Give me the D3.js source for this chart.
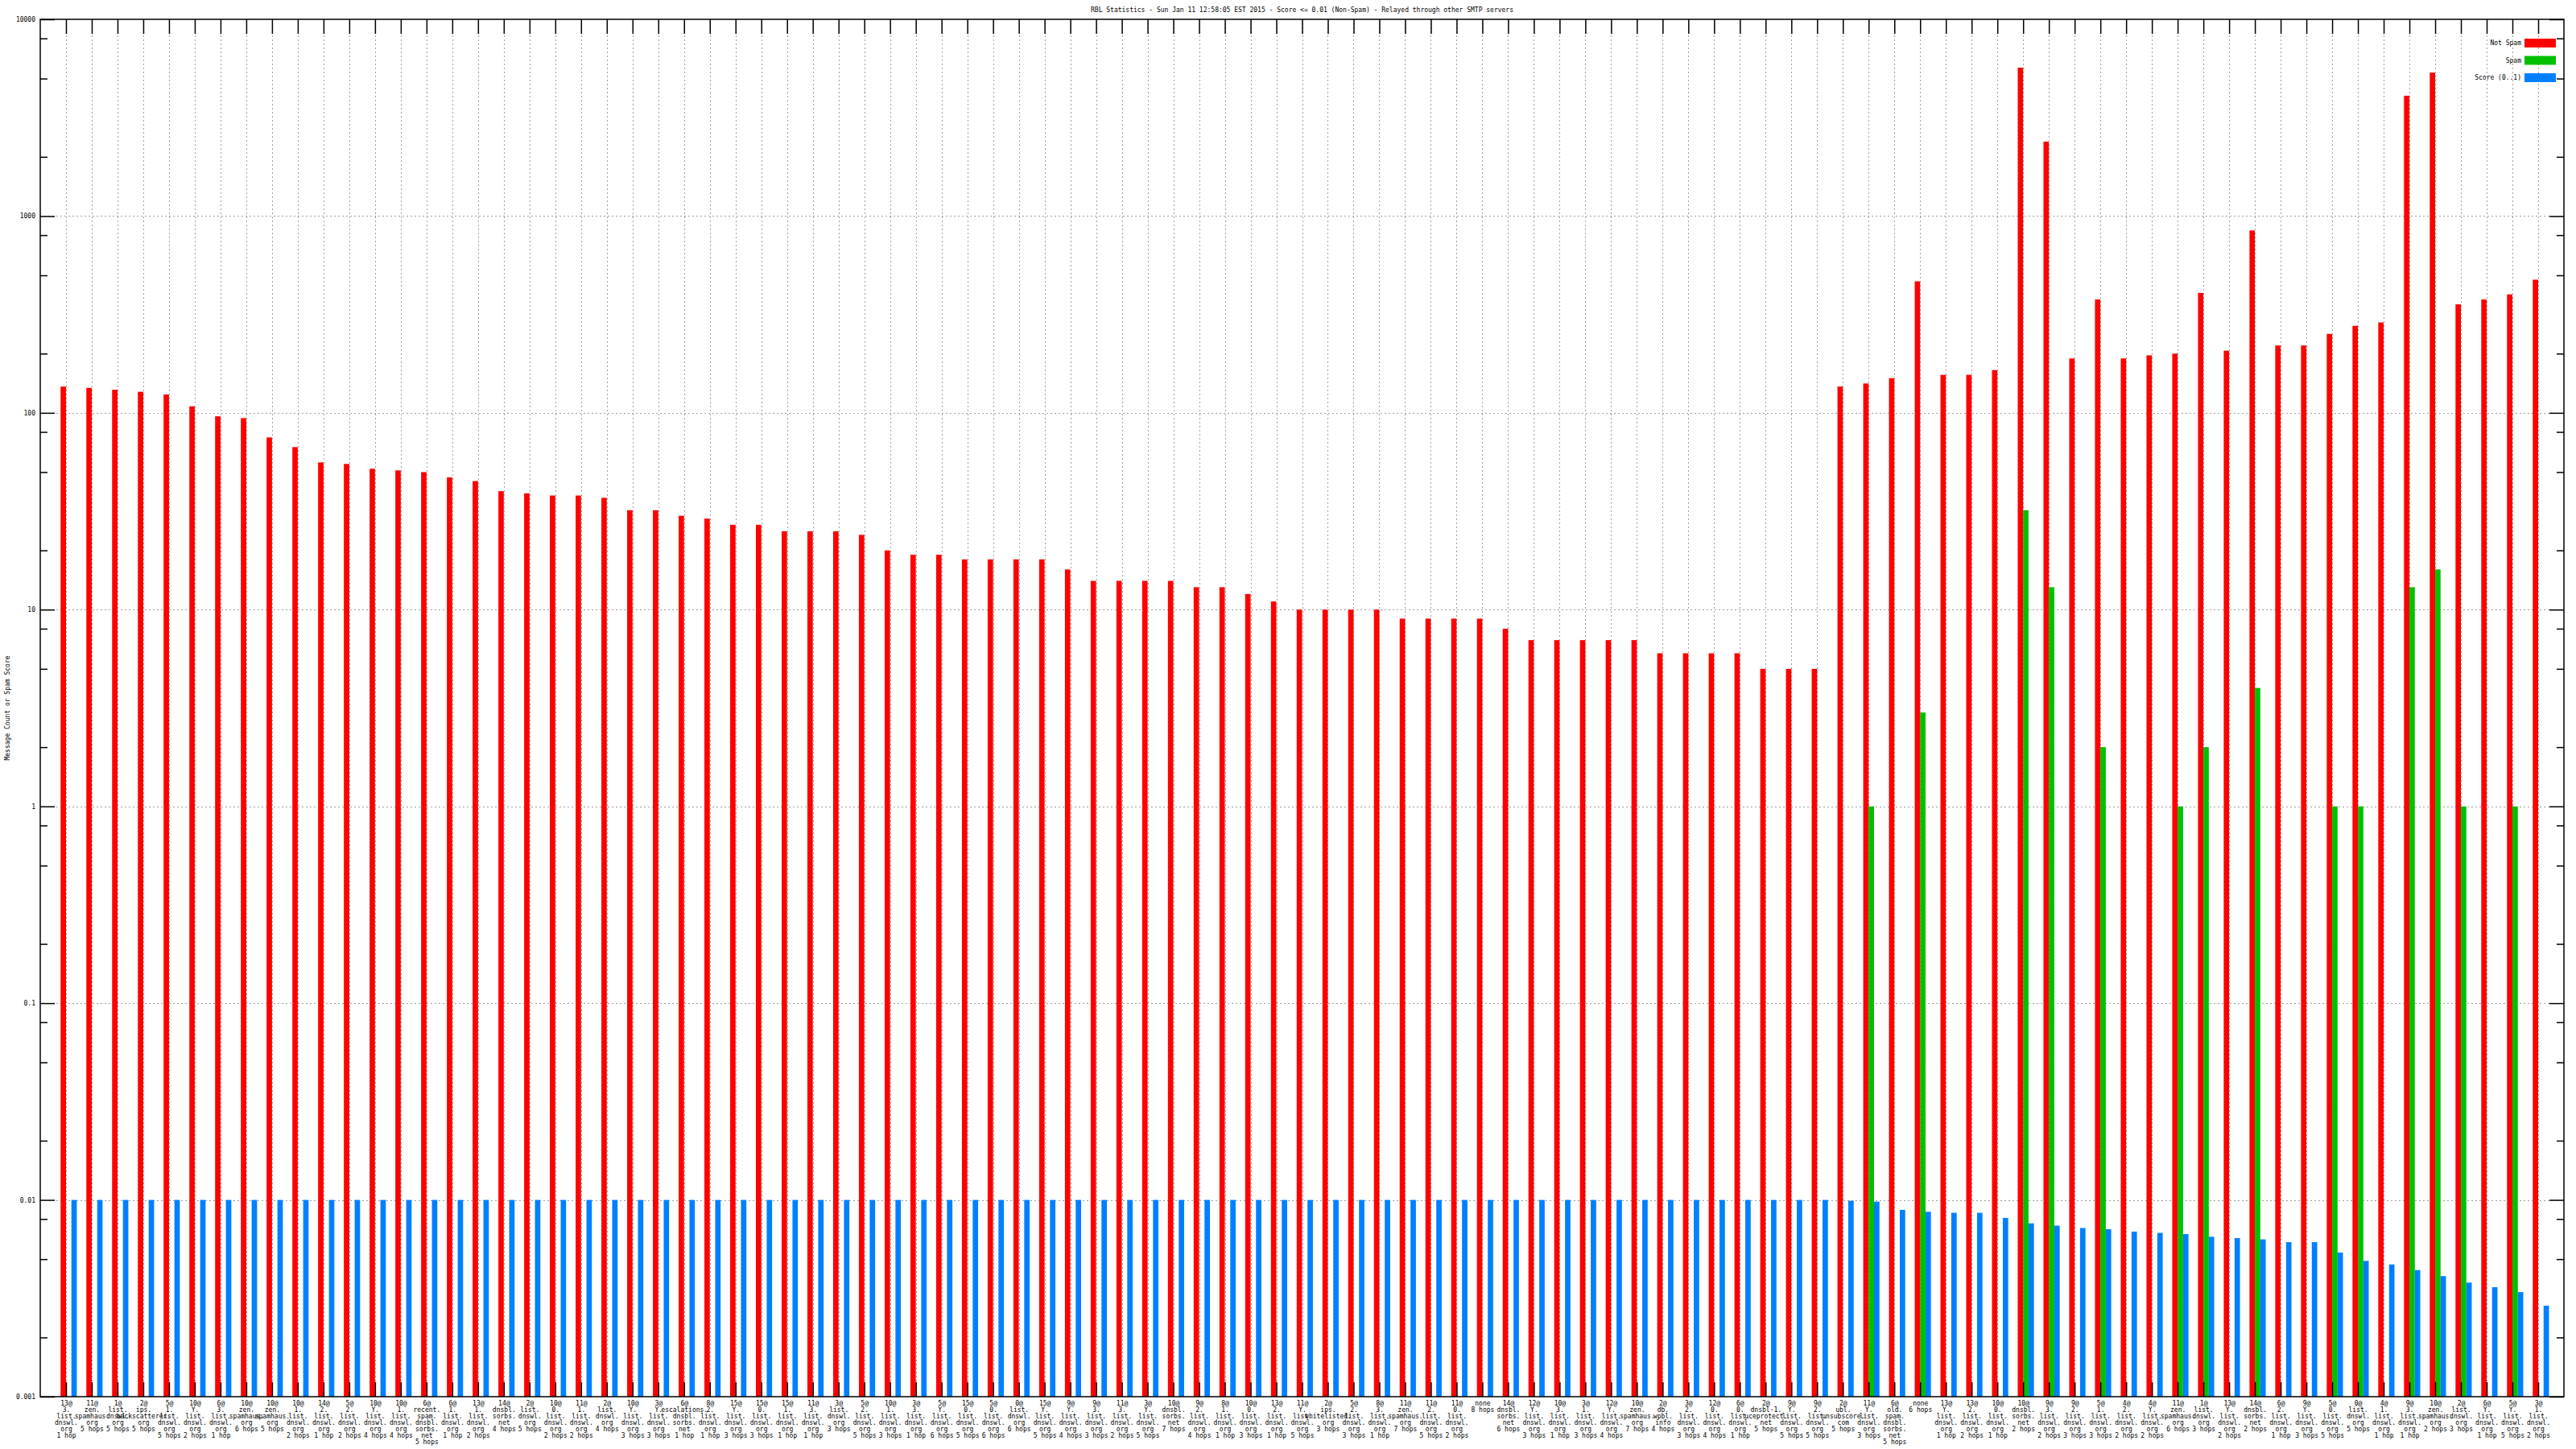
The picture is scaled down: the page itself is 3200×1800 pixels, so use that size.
<!DOCTYPE html>
<html>
<head>
<meta charset="utf-8">
<script src="https://cdn.jsdelivr.net/npm/d3@7"></script>
<style>
  html, body { margin: 0; padding: 0; background: #ffffff; }
  svg { display: block; }
  text { font-family: "DejaVu Sans Mono", "Liberation Mono", monospace; fill: #000; }
</style>
</head>
<body>
<svg id="chart" width="3200" height="1800"></svg>
<script>
const titleText = "RBL Statistics - Sun Jan 11 12:58:05 EST 2015 - Score <= 0.01 (Non-Spam) - Relayed through other SMTP servers";
const yAxisTitle = "Message Count or Spam Score";
const seriesNames = ["Not Spam", "Spam", "Score (0..1)"];
const seriesColors = ["#ff0000", "#00c000", "#0080ff"];

const categories = [
  "13@3.list.dnswl.org 1 hop", "11@zen.spamhaus.org 5 hops", "1@list.dnswl.org 5 hops", "2@ips.backscatterer.org 5 hops",
  "5@1.list.dnswl.org 5 hops", "10@Y.list.dnswl.org 2 hops", "6@3.list.dnswl.org 1 hop", "10@zen.spamhaus.org 6 hops",
  "10@zen.spamhaus.org 5 hops", "10@1.list.dnswl.org 2 hops", "14@2.list.dnswl.org 1 hop", "5@2.list.dnswl.org 2 hops",
  "10@Y.list.dnswl.org 4 hops", "10@1.list.dnswl.org 4 hops", "6@recent.spam.dnsbl.sorbs.net 5 hops", "6@1.list.dnswl.org 1 hop",
  "13@1.list.dnswl.org 2 hops", "14@dnsbl.sorbs.net 4 hops", "2@list.dnswl.org 5 hops", "10@0.list.dnswl.org 2 hops",
  "11@1.list.dnswl.org 2 hops", "2@list.dnswl.org 4 hops", "10@Y.list.dnswl.org 3 hops", "3@Y.list.dnswl.org 3 hops",
  "6@escalations.dnsbl.sorbs.net 1 hop", "8@2.list.dnswl.org 1 hop", "15@Y.list.dnswl.org 3 hops", "15@0.list.dnswl.org 3 hops",
  "15@1.list.dnswl.org 1 hop", "11@3.list.dnswl.org 1 hop", "3@list.dnswl.org 3 hops", "5@2.list.dnswl.org 5 hops",
  "10@1.list.dnswl.org 3 hops", "3@3.list.dnswl.org 1 hop", "5@Y.list.dnswl.org 6 hops", "15@0.list.dnswl.org 5 hops",
  "5@0.list.dnswl.org 6 hops", "0@list.dnswl.org 6 hops", "15@Y.list.dnswl.org 5 hops", "9@Y.list.dnswl.org 4 hops",
  "9@3.list.dnswl.org 3 hops", "11@3.list.dnswl.org 2 hops", "3@Y.list.dnswl.org 5 hops", "10@dnsbl.sorbs.net 7 hops",
  "9@2.list.dnswl.org 4 hops", "8@1.list.dnswl.org 1 hop", "10@0.list.dnswl.org 3 hops", "13@2.list.dnswl.org 1 hop",
  "11@Y.list.dnswl.org 5 hops", "2@ips.whitelisted.org 3 hops", "5@2.list.dnswl.org 3 hops", "8@3.list.dnswl.org 1 hop",
  "11@zen.spamhaus.org 7 hops", "11@2.list.dnswl.org 5 hops", "11@0.list.dnswl.org 2 hops", "none 8 hops",
  "14@dnsbl.sorbs.net 6 hops", "12@Y.list.dnswl.org 3 hops", "10@3.list.dnswl.org 1 hop", "3@1.list.dnswl.org 3 hops",
  "12@Y.list.dnswl.org 4 hops", "10@zen.spamhaus.org 7 hops", "2@db.wpbl.info 4 hops", "3@2.list.dnswl.org 3 hops",
  "12@0.list.dnswl.org 4 hops", "6@0.list.dnswl.org 1 hop", "2@dnsbl-1.uceprotect.net 5 hops", "9@Y.list.dnswl.org 5 hops",
  "9@2.list.dnswl.org 5 hops", "2@ubl.unsubscore.com 5 hops", "11@Y.list.dnswl.org 3 hops", "6@old.spam.dnsbl.sorbs.net 5 hops",
  "none 6 hops", "13@Y.list.dnswl.org 1 hop", "13@2.list.dnswl.org 2 hops", "10@0.list.dnswl.org 1 hop",
  "10@dnsbl.sorbs.net 2 hops", "9@3.list.dnswl.org 2 hops", "9@2.list.dnswl.org 3 hops", "5@1.list.dnswl.org 3 hops",
  "4@2.list.dnswl.org 2 hops", "4@Y.list.dnswl.org 2 hops", "11@zen.spamhaus.org 6 hops", "1@list.dnswl.org 3 hops",
  "13@Y.list.dnswl.org 2 hops", "14@dnsbl.sorbs.net 2 hops", "6@2.list.dnswl.org 1 hop", "9@Y.list.dnswl.org 3 hops",
  "5@0.list.dnswl.org 5 hops", "0@list.dnswl.org 5 hops", "4@1.list.dnswl.org 1 hop", "9@3.list.dnswl.org 1 hop",
  "10@zen.spamhaus.org 2 hops", "2@list.dnswl.org 3 hops", "6@Y.list.dnswl.org 1 hop", "5@Y.list.dnswl.org 5 hops",
  "3@1.list.dnswl.org 2 hops"
];

const notSpam = [
  136, 134, 131, 128, 124, 108, 96, 94, 75, 67,
  56, 55, 52, 51, 50, 47, 45, 40, 39, 38,
  38, 37, 32, 32, 30, 29, 27, 27, 25, 25,
  25, 24, 20, 19, 19, 18, 18, 18, 18, 16,
  14, 14, 14, 14, 13, 13, 12, 11, 10, 10,
  10, 10, 9, 9, 9, 9, 8, 7, 7, 7,
  7, 7, 6, 6, 6, 6, 5, 5, 5,
  136, 141, 150, 466, 156, 156, 165, 5680, 2390, 189,
  377, 189, 196, 200, 407, 207, 845, 220, 220, 252,
  277, 288, 4090, 5360, 356, 377, 400, 475
];

const spam = [
  0,0,0,0,0,0,0,0,0,0, 0,0,0,0,0,0,0,0,0,0,
  0,0,0,0,0,0,0,0,0,0, 0,0,0,0,0,0,0,0,0,0,
  0,0,0,0,0,0,0,0,0,0, 0,0,0,0,0,0,0,0,0,0,
  0,0,0,0,0,0,0,0,0,0,
  1, 0, 3, 0, 0, 0, 32, 13, 0, 2,
  0, 0, 1, 2, 0, 4, 0, 0, 1, 1,
  0, 13, 16, 1, 0, 1, 0
];

const score = [
  0.01,0.01,0.01,0.01,0.01,0.01,0.01,0.01,0.01,0.01,
  0.01,0.01,0.01,0.01,0.01,0.01,0.01,0.01,0.01,0.01,
  0.01,0.01,0.01,0.01,0.01,0.01,0.01,0.01,0.01,0.01,
  0.01,0.01,0.01,0.01,0.01,0.01,0.01,0.01,0.01,0.01,
  0.01,0.01,0.01,0.01,0.01,0.01,0.01,0.01,0.01,0.01,
  0.01,0.01,0.01,0.01,0.01,0.01,0.01,0.01,0.01,0.01,
  0.01,0.01,0.01,0.01,0.01,0.01,0.01,0.01,0.01,
  0.0099, 0.0098, 0.0089, 0.0087, 0.0086, 0.0086, 0.0081, 0.0076, 0.0074, 0.0072,
  0.0071, 0.0069, 0.0068, 0.0067, 0.0065, 0.0064, 0.0063, 0.0061, 0.0061, 0.0054,
  0.0049, 0.0047, 0.0044, 0.0041, 0.0038, 0.0036, 0.0034, 0.0029
];

const yMajorTicks = [0.001, 0.01, 0.1, 1, 10, 100, 1000, 10000];
const yTickLabels = ["0.001", "0.01", "0.1", "1", "10", "100", "1000", "10000"];
const yMinorMultipliers = [2, 5, 8];

// ---- layout ----
const W = 3200, H = 1800;
const L = 50, R = 3185, T = 24, B = 1735;
const FS = 8;

const svg = d3.select("#chart");
svg.append("rect").attr("width", W).attr("height", H).attr("fill", "#fff");

const n = categories.length;
const x = d3.scaleLinear().domain([0, n + 1]).range([L, R]);
const y = d3.scaleLog().domain([0.001, 10000]).range([B, T]);
const idx = d3.range(1, n + 1);
const bw = (x(1) - x(0)) * 0.21;

// minor tick values
const yMinor = [];
yMajorTicks.slice(0, -1).forEach(d => yMinorMultipliers.forEach(m => yMinor.push(d * m)));

// grid
const grid = svg.append("g").attr("stroke", "#a0a0a0").attr("stroke-width", 1).attr("stroke-dasharray", "2,3");
grid.selectAll("line.h").data(yMajorTicks.slice(1, -1)).join("line")
  .attr("x1", L).attr("x2", R)
  .attr("y1", d => Math.round(y(d)) + 0.5).attr("y2", d => Math.round(y(d)) + 0.5);
grid.selectAll("line.v").data(idx).join("line")
  .attr("y1", T).attr("y2", B)
  .attr("x1", d => Math.round(x(d)) + 0.5).attr("x2", d => Math.round(x(d)) + 0.5);

// bars
const bars = svg.append("g");
bars.selectAll("rect.ns").data(notSpam).join("rect")
  .attr("x", (d, i) => x(i + 1) - bw).attr("width", bw)
  .attr("y", d => y(d)).attr("height", d => B - y(d))
  .attr("fill", seriesColors[0]);
bars.selectAll("rect.sp").data(spam.map((v, i) => ({v, i})).filter(d => d.v > 0)).join("rect")
  .attr("x", d => x(d.i + 1)).attr("width", bw)
  .attr("y", d => y(d.v)).attr("height", d => B - y(d.v))
  .attr("fill", seriesColors[1]);
bars.selectAll("rect.sc").data(score).join("rect")
  .attr("x", (d, i) => x(i + 1) + bw).attr("width", bw)
  .attr("y", d => y(d)).attr("height", d => B - y(d))
  .attr("fill", seriesColors[2]);

// axes
function styleAxis(g) {
  g.select(".domain").remove();
  g.selectAll(".tick line").attr("stroke", "#000").attr("stroke-width", 1.5);
  g.selectAll("text").attr("font-family", "DejaVu Sans Mono, monospace").attr("font-size", FS).attr("fill", "#000");
}
svg.append("g").attr("transform", `translate(${L},0)`)
  .call(d3.axisLeft(y).tickValues(yMajorTicks).tickSize(-18).tickSizeOuter(0).tickPadding(6)
    .tickFormat((d, i) => yTickLabels[i]))
  .call(styleAxis);
svg.append("g").attr("transform", `translate(${L},0)`)
  .call(d3.axisLeft(y).tickValues(yMinor).tickSize(-9).tickSizeOuter(0).tickFormat(""))
  .call(styleAxis);
svg.append("g").attr("transform", `translate(${R},0)`)
  .call(d3.axisRight(y).tickValues(yMajorTicks).tickSize(-18).tickSizeOuter(0).tickFormat(""))
  .call(styleAxis);
svg.append("g").attr("transform", `translate(${R},0)`)
  .call(d3.axisRight(y).tickValues(yMinor).tickSize(-9).tickSizeOuter(0).tickFormat(""))
  .call(styleAxis);
svg.append("g").attr("transform", `translate(0,${T})`)
  .call(d3.axisTop(x).tickValues(idx).tickSize(-18).tickSizeOuter(0).tickFormat(""))
  .call(styleAxis);

function splitLabel(s) {
  const m = s.match(/^(.*) (\d+ hops?)$/);
  const host = m ? m[1] : s, hops = m ? m[2] : "";
  let lines = [];
  const at = host.indexOf("@");
  let rest = host;
  if (at >= 0) { lines.push(host.slice(0, at + 1)); rest = host.slice(at + 1); }
  const parts = rest.split(".");
  parts.forEach((p, k) => lines.push(k < parts.length - 1 ? p + "." : p));
  if (hops) lines.push(hops);
  return lines;
}

const xb = svg.append("g").attr("transform", `translate(0,${B})`)
  .call(d3.axisBottom(x).tickValues(idx).tickSize(-18).tickSizeOuter(0).tickPadding(4)
    .tickFormat(d => categories[d - 1]))
  .call(styleAxis);
xb.selectAll(".tick text").each(function(d) {
  const t = d3.select(this);
  const lines = splitLabel(categories[d - 1]);
  t.text(null).attr("y", 0).attr("dy", null);
  lines.forEach((ln, k) => {
    t.append("tspan").attr("x", 0).attr("y", 8 + k * 8).attr("dominant-baseline", "middle").text(ln);
  });
});

// border
svg.append("rect").attr("x", L).attr("y", T).attr("width", R - L).attr("height", B - T)
  .attr("fill", "none").attr("stroke", "#000").attr("stroke-width", 1.5);

// title
svg.append("text").attr("x", (L + R) / 2).attr("y", 12).attr("text-anchor", "middle")
  .attr("dominant-baseline", "middle").attr("font-size", FS).text(titleText);

// y axis title
svg.append("text").attr("transform", `translate(9,${(T + B) / 2}) rotate(-90)`)
  .attr("text-anchor", "middle").attr("dominant-baseline", "middle").attr("font-size", FS).text(yAxisTitle);

// legend
const lg = svg.append("g");
seriesNames.forEach((name, i) => {
  const cy = 53.5 + i * 21.5;
  lg.append("text").attr("x", 3132).attr("y", cy).attr("text-anchor", "end")
    .attr("dominant-baseline", "middle").attr("font-size", FS).text(name);
  lg.append("rect").attr("x", 3136).attr("y", cy - 5.5).attr("width", 39).attr("height", 11)
    .attr("fill", seriesColors[i]);
});
</script>
</body>
</html>
